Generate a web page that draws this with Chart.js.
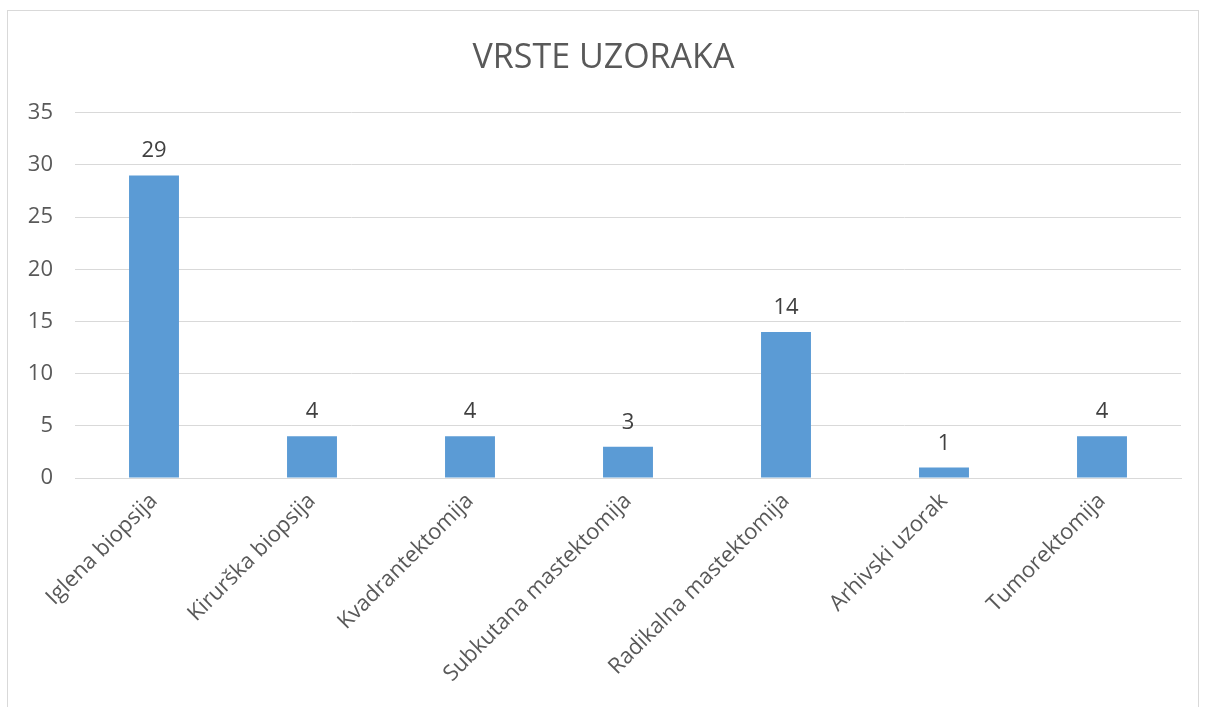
<!DOCTYPE html>
<html>
<head>
<meta charset="utf-8">
<script src="https://cdn.jsdelivr.net/npm/chart.js@4.4.1/dist/chart.umd.min.js"></script>
<style>
html,body{margin:0;padding:0;background:#fff;}
#wrap{position:relative;width:1207px;height:707px;}
#frame{position:absolute;left:7px;top:10px;width:1192px;height:700px;border:1px solid #d9d9d9;pointer-events:none;box-sizing:border-box;}
canvas{position:absolute;left:0;top:0;}
</style>
</head>
<body>
<div id="wrap">
<canvas id="c" width="1207" height="707"></canvas>
<div id="frame"></div>
</div>
<script>
const title = "VRSTE UZORAKA";
const categories = ["Iglena biopsija","Kirurška biopsija","Kvadrantektomija","Subkutana mastektomija","Radikalna mastektomija","Arhivski uzorak","Tumorektomija"];
const values = [29,4,4,3,14,1,4];
const yTicks = [0,5,10,15,20,25,30,35];

const FONT = "'Open Sans', 'Liberation Sans', sans-serif";

const valueLabels = {
  id: 'valueLabels',
  afterDatasetsDraw(chart) {
    const ctx = chart.ctx;
    const meta = chart.getDatasetMeta(0);
    ctx.save();
    ctx.font = "22px " + FONT;
    ctx.fillStyle = "#404040";
    ctx.textAlign = "center";
    ctx.textBaseline = "alphabetic";
    meta.data.forEach((bar, i) => {
      ctx.fillText(String(chart.data.datasets[0].data[i]), bar.x, bar.y - 18);
    });
    ctx.restore();
  }
};

new Chart(document.getElementById('c'), {
  type: 'bar',
  data: {
    labels: categories,
    datasets: [{
      data: values,
      backgroundColor: '#5B9BD5',
      borderWidth: 0,
      barPercentage: 0.316,
      categoryPercentage: 1.0
    }]
  },
  options: {
    responsive: false,
    animation: false,
    devicePixelRatio: 1,
    layout: { padding: { left: 26, right: 26, top: 0, bottom: 0 } },
    plugins: {
      legend: { display: false },
      tooltip: { enabled: false },
      title: {
        display: true,
        text: title,
        color: '#595959',
        font: { family: FONT, size: 34, weight: 'normal', lineHeight: 1.2 },
        padding: { top: 38, bottom: 34 }
      }
    },
    scales: {
      x: {
        grid: { display: false, drawTicks: false },
        border: { display: true, color: '#d9d9d9', width: 1 },
        ticks: {
          color: '#595959',
          font: { family: FONT, size: 22 },
          maxRotation: 45,
          minRotation: 45,
          padding: 10,
          autoSkip: false
        },
        afterFit(scale) { scale.height = 229; }
      },
      y: {
        min: 0,
        max: 35,
        afterBuildTicks(scale) { scale.ticks = yTicks.map(v => ({ value: v })); },
        grid: { color: '#d9d9d9', lineWidth: 1, drawTicks: false },
        border: { display: false },
        ticks: {
          color: '#595959',
          font: { family: FONT, size: 22 },
          padding: 22
        },
        afterFit(scale) { scale.width = 49; }
      }
    }
  },
  plugins: [valueLabels]
});
</script>
</body>
</html>
